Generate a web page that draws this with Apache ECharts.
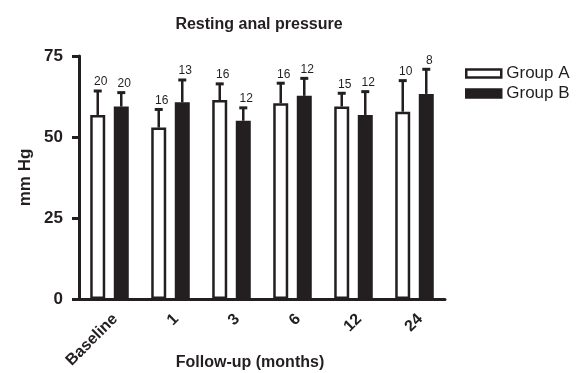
<!DOCTYPE html>
<html>
<head>
<meta charset="utf-8">
<script src="https://cdn.jsdelivr.net/npm/echarts@6/dist/echarts.min.js"></script>
<style>
  html, body { margin: 0; padding: 0; background: #fff; }
  #chart { width: 576px; height: 373px; }
</style>
</head>
<body>
<div id="chart"></div>
<script>
const categories = ['Baseline', '1', '3', '6', '12', '24'];
const groupAMean = [56.8, 52.9, 61.4, 60.4, 59.4, 57.8];
const groupASD   = [7.4, 5.6, 5.0, 6.2, 4.1, 9.6];
const groupAN    = [20, 16, 16, 16, 15, 10];
const groupBMean = [59.4, 60.7, 55.0, 62.7, 56.8, 63.3];
const groupBSD   = [4.3, 6.9, 4.0, 5.4, 7.2, 7.6];
const groupBN    = [20, 13, 12, 12, 12, 8];
const yTicks = [0, 25, 50, 75];

const DARK = '#231f20';
const FONT = '"Liberation Sans", Arial, Helvetica, sans-serif';
const BAR_W = 15;
const BAR_GAP = 0.57;
const OFFSET = BAR_W * (1 + BAR_GAP) / 2;

function errorSeries(means, sds, ns, side) {
  return {
    type: 'custom',
    silent: true,
    z: 5,
    data: means.map((m, i) => [i, m, m + sds[i], ns[i]]),
    renderItem: function (params, api) {
      const c = api.value(0);
      const base = api.coord([c, api.value(1)]);
      const top = api.coord([c, api.value(2)]);
      const x = base[0] + side * OFFSET;
      return {
        type: 'group',
        children: [
          { type: 'line', shape: { x1: x, y1: base[1], x2: x, y2: top[1] },
            style: { stroke: DARK, lineWidth: 2.5 } },
          { type: 'line', shape: { x1: x - 4, y1: top[1], x2: x + 4, y2: top[1] },
            style: { stroke: DARK, lineWidth: 3 } },
          { type: 'text', x: x + 3, y: top[1] - 3,
            style: { text: String(api.value(3)), align: 'center', verticalAlign: 'bottom',
                     font: '12px ' + FONT, fill: DARK } }
        ]
      };
    }
  };
}

const chart = echarts.init(document.getElementById('chart'), null, { renderer: 'canvas' });
chart.setOption({
  animation: false,
  backgroundColor: '#fff',
  title: {
    text: 'Resting anal pressure',
    left: 254, top: 12, textAlign: 'center',
    textStyle: { fontFamily: FONT, fontSize: 16, fontWeight: 'bold', color: DARK }
  },
  legend: {
    orient: 'vertical',
    left: 460, top: 60,
    itemWidth: 35, itemHeight: 8, itemGap: 3,
    icon: 'rect',
    textStyle: { fontFamily: FONT, fontSize: 17, color: DARK },
    data: [
      { name: 'Group A', itemStyle: { color: '#fff', borderColor: DARK, borderWidth: 2.5 } },
      { name: 'Group B', itemStyle: { color: DARK, borderColor: DARK, borderWidth: 2.5 } }
    ]
  },
  grid: { left: 79, right: 131, top: 56, bottom: 74, containLabel: false, outerBoundsMode: 'none' },
  xAxis: {
    type: 'category',
    data: categories,
    name: 'Follow-up (months)',
    nameLocation: 'middle',
    nameGap: 56,
    nameMoveOverlap: false,
    nameTextStyle: { fontFamily: FONT, fontSize: 16, fontWeight: 'bold', color: DARK, padding: [0, 24, 0, 0] },
    axisLine: { lineStyle: { color: DARK, width: 3 } },
    axisTick: { alignWithLabel: true, length: 7, lineStyle: { color: DARK, width: 3 } },
    axisLabel: { rotate: 45, margin: 12, verticalAlign: 'top', fontFamily: FONT, fontSize: 16, fontWeight: 'bold', color: DARK }
  },
  yAxis: {
    type: 'value',
    min: yTicks[0], max: yTicks[yTicks.length - 1], interval: yTicks[1] - yTicks[0],
    name: 'mm Hg',
    nameLocation: 'middle',
    nameGap: 45,
    nameMoveOverlap: false,
    nameTextStyle: { fontFamily: FONT, fontSize: 17, fontWeight: 'bold', color: DARK },
    splitLine: { show: false },
    axisLine: { show: true, lineStyle: { color: DARK, width: 3 } },
    axisTick: { show: true, length: 7, lineStyle: { color: DARK, width: 3 } },
    axisLabel: { margin: 16, fontFamily: FONT, fontSize: 17, fontWeight: 'bold', color: DARK }
  },
  series: [
    { name: 'Group A', type: 'bar', data: groupAMean, barWidth: BAR_W, barGap: (BAR_GAP * 100) + '%',
      itemStyle: { color: '#fff', borderColor: DARK, borderWidth: 2.5 } },
    { name: 'Group B', type: 'bar', data: groupBMean, barWidth: BAR_W,
      itemStyle: { color: DARK, borderColor: DARK, borderWidth: 2 } },
    errorSeries(groupAMean, groupASD, groupAN, -1),
    errorSeries(groupBMean, groupBSD, groupBN, 1)
  ]
});
</script>
</body>
</html>
